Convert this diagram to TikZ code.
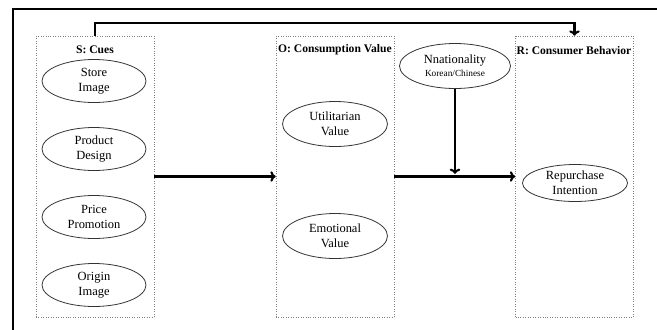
\documentclass[tikz,border=0pt]{standalone}
\usepackage{fontspec}
\setmainfont{Liberation Serif}
\usetikzlibrary{arrows.meta,shapes.geometric}

\begin{document}
\begin{tikzpicture}[x=0.02cm,y=-0.02cm]
\tikzstyle{every node}+=[inner sep=0pt]
\tikzstyle{group}=[draw=gray,densely dotted,line width=0.4pt,minimum width=2.36cm,minimum height=5.62cm]
\tikzstyle{cue}=[draw=black!80,ellipse,line width=0.45pt,minimum width=2.08cm,minimum height=0.86cm,align=center,font=\fontsize{7.1}{8.5}\selectfont]
\tikzstyle{head}=[font=\bfseries\fontsize{6.6}{8}\selectfont]
\tikzstyle{flow}=[line width=1.2pt,-{To[length=3pt,width=6pt]}]
\clip (0,0) rectangle (657,329);
\draw [line width=1.1pt] (13,9) rectangle (700,400);
% S, O and R boxes
\node [group] (sbox) at (95,176.5) {};
\node [group] (obox) at (335,176.5) {};
\node [group] (rbox) at (574.5,176.5) {};
\node [head] (shead) at (95,50) {S: Cues};
\node [head] (ohead) at (335,50) {O: Consumption Value};
\node [head] (rhead) at (574,51) {R: Consumer Behavior};
% cues
\node [cue] (store) at (94,81) {Store\\Image};
\node [cue] (design) at (94,149) {Product\\Design};
\node [cue] (price) at (94,217) {Price\\Promotion};
\node [cue] (origin) at (94,285) {Origin\\Image};
% values
\node [cue,minimum width=2.1cm,minimum height=0.9cm] (util) at (335,124) {Utilitarian\\Value};
\node [cue,minimum width=2.1cm,minimum height=0.9cm] (emo) at (335,236) {Emotional\\Value};
% moderator and outcome
\node [cue,minimum width=2.22cm,minimum height=0.9cm] (nat) at (455,66) {Nnationality\\[-1pt]{\fontsize{5.3}{6}\selectfont Korean/Chinese}};
\node [cue,minimum width=2.1cm,minimum height=0.74cm] (rep) at (575,183) {Repurchase\\Intention};
% paths
\draw [flow] (sbox) -- (obox);
\draw [flow] (obox) -- (rbox);
\draw [flow,shorten >=1.5pt] (nat) -- (nat |- obox.east);
\draw [flow] (sbox.north) -- ++(0,-13) -| (rbox.north);
\end{tikzpicture}
\end{document}
